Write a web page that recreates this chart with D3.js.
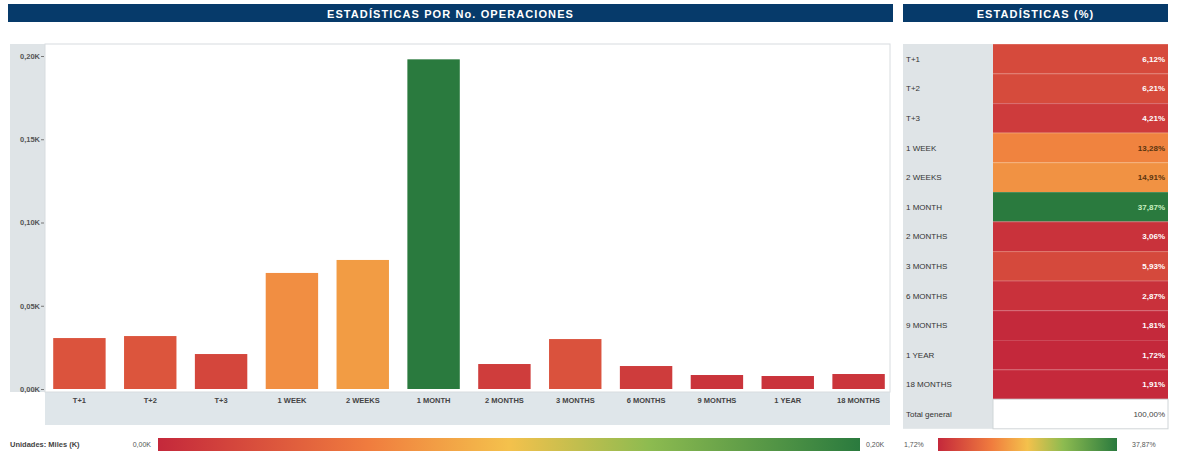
<!DOCTYPE html>
<html>
<head>
<meta charset="utf-8">
<script src="https://d3js.org/d3.v7.min.js"></script>
<style>
  body { margin: 0; background: #fff; }
  text { font-family: "Liberation Sans", Arial, sans-serif; }
</style>
</head>
<body>
<script>
// data
var categories = ["T+1", "T+2", "T+3", "1 WEEK", "2 WEEKS", "1 MONTH", "2 MONTHS", "3 MONTHS", "6 MONTHS", "9 MONTHS", "1 YEAR", "18 MONTHS"];
var operations = [0.0306, 0.0318, 0.0210, 0.0697, 0.0775, 0.1980, 0.0150, 0.0300, 0.0138, 0.0084, 0.0078, 0.0090]; // miles (K)
var percents = [6.12, 6.21, 4.21, 13.28, 14.91, 37.87, 3.06, 5.93, 2.87, 1.81, 1.72, 1.91];
var yTicks = [0, 0.05, 0.10, 0.15, 0.20];
var totalLabel = "Total general", totalPct = "100,00%";

var W = 1177, H = 463;
var svg = d3.select("body").append("svg").attr("width", W).attr("height", H);

var fmtK = d => d3.format(".2f")(d).replace(".", ",") + "K";
var fmtP = d => d3.format(".2f")(d).replace(".", ",") + "%";

// red -> orange -> yellow -> green ramp
var ramp = d3.scaleLinear()
    .domain([0, 0.3, 0.5, 0.7, 1])
    .range(["#c4283b", "#f07c3e", "#f4c14c", "#8dbb50", "#2a7a3e"])
    .interpolate(d3.interpolateRgb);

// ---------- title bars ----------
function titleBar(x0, x1, label) {
  svg.append("rect").attr("x", x0).attr("y", 4).attr("width", x1 - x0).attr("height", 18).attr("fill", "#063a6a");
  svg.append("text").attr("x", (x0 + x1) / 2).attr("y", 17.5).attr("text-anchor", "middle")
    .attr("fill", "#fff").attr("font-size", 11).attr("font-weight", "bold").attr("letter-spacing", 1.1)
    .text(label);
}
titleBar(8, 893, "ESTADÍSTICAS POR No. OPERACIONES");
titleBar(903, 1168, "ESTADÍSTICAS (%)");

// ---------- bar chart ----------
var plot = {left: 45, right: 890, top: 44, bottom: 392};

svg.append("rect").attr("x", 10).attr("y", plot.top).attr("width", plot.left - 10).attr("height", plot.bottom - plot.top).attr("fill", "#dfe4e7");
svg.append("rect").attr("x", plot.left).attr("y", plot.bottom).attr("width", plot.right - plot.left).attr("height", 33).attr("fill", "#dfe6ea");
svg.append("rect").attr("x", plot.left).attr("y", plot.top).attr("width", plot.right - plot.left).attr("height", plot.bottom - plot.top)
  .attr("fill", "#fff").attr("stroke", "#d8dcdf");

var x = d3.scaleBand().domain(categories).range([44, 894]).paddingInner(0.26).paddingOuter(0.13);
var y = d3.scaleLinear().domain([0, 0.2]).range([389, 56]);
var barColor = v => ramp(v / d3.max(operations));

svg.append("g").selectAll("rect").data(categories).enter().append("rect")
  .attr("x", d => x(d)).attr("width", x.bandwidth())
  .attr("y", (d, i) => y(operations[i])).attr("height", (d, i) => y(0) - y(operations[i]))
  .attr("fill", (d, i) => barColor(operations[i]));

var yAxis = svg.append("g").attr("transform", "translate(44,0)")
  .call(d3.axisLeft(y).tickValues(yTicks).tickFormat(fmtK).tickSize(3).tickPadding(1));
yAxis.select(".domain").remove();
yAxis.selectAll("line").attr("stroke", "#777");
yAxis.selectAll("text").attr("font-size", 7.5).attr("fill", "#555").attr("font-weight", "bold");

var xAxis = svg.append("g").attr("transform", "translate(0," + plot.bottom + ")")
  .call(d3.axisBottom(x).tickSize(0).tickPadding(6));
xAxis.select(".domain").remove();
xAxis.selectAll("text").attr("font-size", 7.5).attr("fill", "#444").attr("font-weight", "bold");

// ---------- legends ----------
var defs = svg.append("defs");
function gradient(id) {
  var g = defs.append("linearGradient").attr("id", id);
  d3.range(0, 1.0001, 0.1).forEach(t => g.append("stop").attr("offset", t).attr("stop-color", ramp(t)));
}
gradient("gK"); gradient("gP");

svg.append("text").attr("x", 10).attr("y", 447).attr("font-size", 7.5).attr("fill", "#444").attr("font-weight", "bold").text("Unidades: Miles (K)");
svg.append("text").attr("x", 151).attr("y", 447).attr("text-anchor", "end").attr("font-size", 7).attr("fill", "#555").text(fmtK(0));
svg.append("rect").attr("x", 158).attr("y", 438).attr("width", 702).attr("height", 13).attr("fill", "url(#gK)");
svg.append("text").attr("x", 866).attr("y", 447).attr("font-size", 7).attr("fill", "#555").text(fmtK(0.2));

svg.append("text").attr("x", 904).attr("y", 447).attr("font-size", 7).attr("fill", "#555").text(fmtP(d3.min(percents)));
svg.append("rect").attr("x", 938).attr("y", 438).attr("width", 179).attr("height", 13).attr("fill", "url(#gP)");
svg.append("text").attr("x", 1132).attr("y", 447).attr("font-size", 7).attr("fill", "#555").text(fmtP(d3.max(percents)));

// ---------- percent table ----------
var tab = {left: 903, split: 993, right: 1168, top: 44, rowH: 29.6};
var rows = categories.map((c, i) => ({label: c, pct: percents[i]}));
var pMin = d3.min(percents), pMax = d3.max(percents);
var cellColor = p => ramp((p - pMin) / (pMax - pMin));
var ry = i => tab.top + i * tab.rowH;

svg.append("rect").attr("x", tab.left).attr("y", tab.top).attr("width", tab.split - tab.left).attr("height", tab.rowH * 13)
  .attr("fill", "#dfe4e7");

var row = svg.append("g").selectAll("g").data(rows).enter().append("g");
row.append("rect").attr("x", tab.split).attr("y", (d, i) => ry(i)).attr("width", tab.right - tab.split).attr("height", tab.rowH)
  .attr("fill", d => cellColor(d.pct));
row.append("line").attr("x1", tab.split).attr("x2", tab.right).attr("y1", (d, i) => ry(i) + 0.5).attr("y2", (d, i) => ry(i) + 0.5)
  .attr("stroke", "#fff").attr("stroke-opacity", 0.15);
row.append("text").attr("x", tab.left + 3).attr("y", (d, i) => ry(i) + tab.rowH / 2 + 3)
  .attr("font-size", 8).attr("fill", "#333").text(d => d.label);
row.append("text").attr("x", tab.right - 3).attr("y", (d, i) => ry(i) + tab.rowH / 2 + 3).attr("text-anchor", "end")
  .attr("font-size", 8).attr("font-weight", "bold")
  .attr("fill", d => { var t = (d.pct - pMin) / (pMax - pMin); return (t > 0.25 && t < 0.6) ? "#5a3510" : (t >= 0.6 ? "#c8f0c0" : "#fff"); })
  .text(d => fmtP(d.pct));

var tY = ry(12);
svg.append("rect").attr("x", tab.split).attr("y", tY).attr("width", tab.right - tab.split).attr("height", tab.rowH)
  .attr("fill", "#fff").attr("stroke", "#d0d5d8");
svg.append("text").attr("x", tab.left + 3).attr("y", tY + tab.rowH / 2 + 3).attr("font-size", 8).attr("fill", "#333").text(totalLabel);
svg.append("text").attr("x", tab.right - 3).attr("y", tY + tab.rowH / 2 + 3).attr("text-anchor", "end").attr("font-size", 8).attr("fill", "#444").text(totalPct);
</script>
</body>
</html>
